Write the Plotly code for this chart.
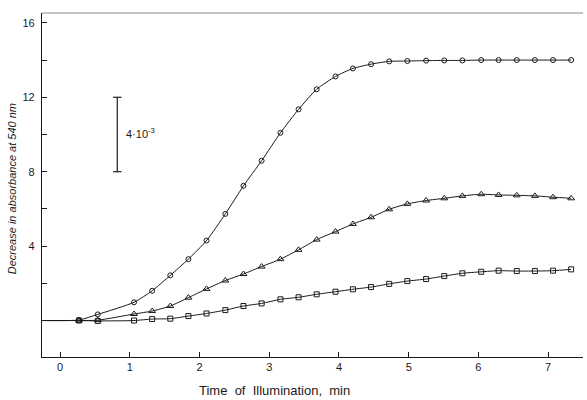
import plotly.graph_objects as go

# shared time grid (min)
time = [0.27, 0.54, 1.06, 1.32, 1.58, 1.84, 2.10, 2.37, 2.63, 2.89, 3.16, 3.42, 3.68,
        3.95, 4.20, 4.46, 4.72, 4.98, 5.25, 5.51, 5.77, 6.04, 6.29, 6.55, 6.81, 7.07, 7.33]

circles = [0.03, 0.33, 0.98, 1.60, 2.43, 3.30, 4.30, 5.73, 7.24, 8.59, 10.09, 11.35, 12.43,
           13.12, 13.55, 13.78, 13.93, 13.95, 13.97, 13.98, 13.98, 14.00, 14.00, 14.00, 14.00, 14.00, 14.00]

triangles = [0.0, 0.02, 0.35, 0.51, 0.78, 1.23, 1.70, 2.15, 2.50, 2.90, 3.30, 3.80, 4.35,
             4.78, 5.19, 5.55, 5.98, 6.27, 6.45, 6.57, 6.70, 6.79, 6.75, 6.73, 6.70, 6.63, 6.57]

squares = [0.0, -0.02, 0.0, 0.08, 0.10, 0.24, 0.38, 0.56, 0.78, 0.92, 1.14, 1.25, 1.41,
           1.55, 1.68, 1.80, 1.97, 2.12, 2.23, 2.39, 2.54, 2.62, 2.68, 2.66, 2.66, 2.68, 2.75]

baseline_start = -0.26   # curves begin on the y axis at zero

x_tick_vals = [0, 1, 2, 3, 4, 5, 6, 7]
x_tick_text = ["0", "1", "2", "3", "4", "5", "6", "7"]
y_tick_vals = [4, 8, 12, 16]
y_tick_text = ["4", "8", "12", "16"]
y_minor_vals = [2, 6, 10, 14]

scale_bar_x = 0.82
scale_bar_low, scale_bar_high = 8, 12
scale_bar_label = "4·10<sup>-3</sup>"

x_title = "Time  of  Illumination,  min"
y_title = "<i>Decrease in absorbance at 540 nm</i>"

INK = "#1a1a1a"
FONT = "Liberation Sans, Arial"
fig = go.Figure()

for vals, sym, size in [(circles, "circle-open", 5), (triangles, "triangle-up-open", 6),
                        (squares, "square-open", 5)]:
    fig.add_trace(go.Scatter(
        x=[baseline_start] + time, y=[0] + vals, mode="lines",
        line=dict(color=INK, width=1.0, shape="spline", smoothing=0.6),
        hoverinfo="skip", showlegend=False))
    fig.add_trace(go.Scatter(
        x=time, y=vals, mode="markers",
        marker=dict(symbol=sym, size=size, color=INK, line=dict(width=1.0, color=INK)),
        showlegend=False))

# scale bar
cap = 0.06
fig.add_shape(type="line", x0=scale_bar_x, x1=scale_bar_x, y0=scale_bar_low, y1=scale_bar_high,
              line=dict(color=INK, width=1.2))
for yv in (scale_bar_low, scale_bar_high):
    fig.add_shape(type="line", x0=scale_bar_x - cap, x1=scale_bar_x + cap, y0=yv, y1=yv,
                  line=dict(color=INK, width=1.2))
fig.add_annotation(x=scale_bar_x + 0.1, y=10.1, text=scale_bar_label, showarrow=False,
                   xanchor="left", yanchor="middle",
                   font=dict(family=FONT, size=11, color=INK))

# axis titles
fig.add_annotation(xref="paper", yref="paper", x=0.43, y=-0.097, text=x_title,
                   showarrow=False, xanchor="center", yanchor="middle",
                   font=dict(family=FONT, size=13, color=INK))
fig.add_annotation(xref="paper", yref="paper", x=-0.054, y=0.49, text=y_title,
                   textangle=-90, showarrow=False, xanchor="center", yanchor="middle",
                   font=dict(family=FONT, size=11, color=INK))

# top frame line (faint)
fig.add_shape(type="line", xref="paper", yref="paper", x0=0, x1=1, y0=1, y1=1,
              line=dict(color="#888888", width=1))

fig.update_layout(
    width=587, height=400,
    margin=dict(l=42, r=4, t=13, b=43),
    paper_bgcolor="white", plot_bgcolor="white",
    font=dict(family=FONT, color=INK, size=11),
    xaxis=dict(range=[-0.26, 7.5], tickvals=x_tick_vals, ticktext=x_tick_text,
               ticks="inside", ticklen=5, tickcolor=INK, showgrid=False, zeroline=False,
               showline=True, linecolor=INK, linewidth=1.2, automargin=False,
               tickfont=dict(size=11)),
    yaxis=dict(range=[-1.96, 16.53], tickvals=y_tick_vals, ticktext=y_tick_text,
               ticks="inside", ticklen=5, tickcolor=INK, showgrid=False, zeroline=False,
               showline=True, linecolor=INK, linewidth=1.2, automargin=False,
               tickfont=dict(size=11), ticklabelstandoff=4,
               minor=dict(tickvals=y_minor_vals, ticks="inside", ticklen=5, tickcolor=INK)),
)

fig.write_html("out.html", config={"displayModeBar": False},
               post_script="document.body.style.margin='0';")
